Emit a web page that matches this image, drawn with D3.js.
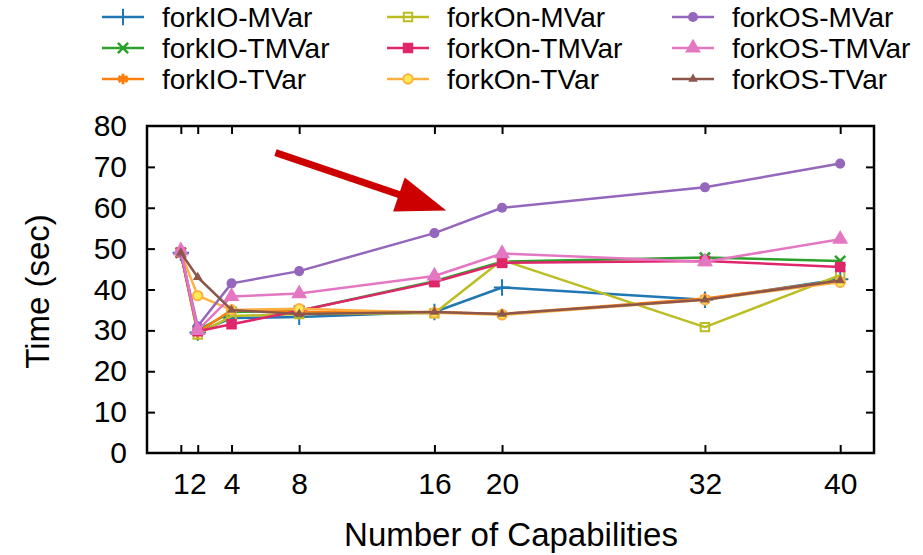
<!DOCTYPE html>
<html>
<head>
<meta charset="utf-8">
<script src="https://cdn.jsdelivr.net/npm/d3@7"></script>
<style>
  html, body { margin: 0; padding: 0; background: #fff; }
  svg { display: block; font-family: "Liberation Sans", Arial, sans-serif; }
</style>
</head>
<body>
<svg id="chart" width="923" height="555"></svg>
<script>
// Capabilities measured
const capabilities = [1, 2, 4, 8, 16, 20, 32, 40];
const xTickValues = [1, 2, 4, 8, 16, 20, 32, 40];
const yTickValues = [0, 10, 20, 30, 40, 50, 60, 70, 80];

// Run time (sec) per variant, one entry per capability count
const forkIOMVar  = [49.0, 29.5, 33.0, 33.3, 34.5, 40.5, 37.5, 42.5];
const forkIOTMVar = [49.0, 30.0, 34.5, 34.8, 42.0, 46.8, 47.8, 47.0];
const forkIOTVar  = [49.0, 29.5, 35.0, 34.5, 34.5, 34.0, 37.8, 42.2];
const forkOnMVar  = [49.0, 29.0, 33.5, 34.0, 34.2, 47.2, 30.8, 43.5];
const forkOnTMVar = [49.0, 29.8, 31.5, 34.8, 41.8, 46.5, 47.0, 45.5];
const forkOnTVar  = [49.0, 38.5, 35.0, 35.3, 34.3, 33.8, 37.5, 41.8];
const forkOSMVar  = [49.0, 31.0, 41.5, 44.5, 53.8, 60.0, 65.0, 70.8];
const forkOSTMVar = [49.5, 30.0, 38.3, 39.0, 43.3, 48.8, 46.8, 52.3];
const forkOSTVar  = [49.0, 43.0, 35.0, 34.0, 34.5, 34.0, 37.5, 42.2];

const seriesNames = ["forkIO-MVar", "forkIO-TMVar", "forkIO-TVar",
                     "forkOn-MVar", "forkOn-TMVar", "forkOn-TVar",
                     "forkOS-MVar", "forkOS-TMVar", "forkOS-TVar"];
const seriesValues = [forkIOMVar, forkIOTMVar, forkIOTVar,
                      forkOnMVar, forkOnTMVar, forkOnTVar,
                      forkOSMVar, forkOSTMVar, forkOSTVar];

// Highlight arrow, in data coordinates: [capabilities, seconds]
const arrowFrom = [6.6, 73.5];
const arrowTo = [16.7, 59.3];

// Styling
const colors = ["#1f77b4", "#2ca02c", "#ff7f0e",
                "#bcbd22", "#e0266a", "#ffb040",
                "#9467bd", "#e377c2", "#8c564b"];
const markers = [
  { type: d3.symbolPlus, size: 90, fill: false, sw: 2 },
  { type: d3.symbolTimes, size: 70, fill: false, sw: 2.5 },
  { type: d3.symbolAsterisk, size: 80, fill: false, sw: 3 },
  { type: d3.symbolSquare2, size: 90, fill: false, sw: 2 },
  { type: d3.symbolSquare, size: 110, fill: true, sw: 0 },
  { type: d3.symbolCircle, size: 70, fill: "light", sw: 2 },
  { type: d3.symbolCircle, size: 80, fill: true, sw: 0 },
  { type: d3.symbolTriangle, size: 110, fill: true, sw: 0 },
  { type: d3.symbolTriangle, size: 40, fill: true, sw: 0 }
];

const svg = d3.select("#chart");
const plot = { left: 147, right: 874, top: 126, bottom: 453 };

const x = d3.scaleLinear().domain([-1, 42]).range([plot.left, plot.right]);
const y = d3.scaleLinear().domain([0, 80]).range([plot.bottom, plot.top]);

const tickLen = 8;
const fontTick = 30;

// Axes with inward ticks on all four sides
const axisG = svg.append("g");
const bottomAxis = axisG.append("g")
  .attr("transform", `translate(0,${plot.bottom})`)
  .call(d3.axisBottom(x).tickValues(xTickValues).tickSizeInner(-tickLen).tickSizeOuter(0).tickPadding(20));
const topAxis = axisG.append("g")
  .attr("transform", `translate(0,${plot.top})`)
  .call(d3.axisTop(x).tickValues(xTickValues).tickSizeInner(-tickLen).tickSizeOuter(0).tickFormat(""));
const leftAxis = axisG.append("g")
  .attr("transform", `translate(${plot.left},0)`)
  .call(d3.axisLeft(y).tickValues(yTickValues).tickSizeInner(-tickLen).tickSizeOuter(0).tickPadding(20));
const rightAxis = axisG.append("g")
  .attr("transform", `translate(${plot.right},0)`)
  .call(d3.axisRight(y).tickValues(yTickValues).tickSizeInner(-tickLen).tickSizeOuter(0).tickFormat(""));

axisG.selectAll(".domain").remove();
axisG.selectAll(".tick line").attr("stroke", "#000").attr("stroke-width", 2);
axisG.selectAll(".tick text")
  .attr("fill", "#000")
  .style("font-size", fontTick + "px")
  .style("font-family", "'Liberation Sans', Arial, sans-serif");
// Drop ticks that fall on the frame corners
leftAxis.selectAll(".tick").filter(d => d === 0 || d === 80).select("line").remove();
rightAxis.selectAll(".tick").filter(d => d === 0 || d === 80).select("line").remove();

// Frame
svg.append("rect")
  .attr("x", plot.left).attr("y", plot.top)
  .attr("width", plot.right - plot.left).attr("height", plot.bottom - plot.top)
  .attr("fill", "none").attr("stroke", "#000").attr("stroke-width", 2.5);

// Axis titles
svg.append("text")
  .attr("x", 511).attr("y", 546)
  .attr("text-anchor", "middle")
  .style("font-size", "33px")
  .text("Number of Capabilities");
svg.append("text")
  .attr("transform", `translate(49,${(plot.top + plot.bottom) / 2 + 2}) rotate(-90)`)
  .attr("text-anchor", "middle")
  .style("font-size", "33px")
  .text("Time (sec)");

// Series
const line = d3.line().x(d => x(d[0])).y(d => y(d[1]));

function drawMarker(g, m, color, cx, cy) {
  const p = g.append("path")
    .attr("d", d3.symbol().type(m.type).size(m.size)())
    .attr("transform", `translate(${cx},${cy})`);
  if (m.fill === true) {
    p.attr("fill", color).attr("stroke", "none");
  } else if (m.fill === "light") {
    p.attr("fill", d3.color(color).brighter(0.8)).attr("stroke", color).attr("stroke-width", m.sw);
  } else {
    p.attr("fill", "none").attr("stroke", color).attr("stroke-width", m.sw);
  }
}

const seriesG = svg.append("g");
seriesNames.forEach((name, i) => {
  const pts = capabilities.map((c, j) => [c, seriesValues[i][j]]);
  const g = seriesG.append("g");
  g.append("path")
    .datum(pts)
    .attr("d", line)
    .attr("fill", "none")
    .attr("stroke", colors[i])
    .attr("stroke-width", 2.5)
    .attr("stroke-linejoin", "round");
  pts.forEach(p => drawMarker(g, markers[i], colors[i], x(p[0]), y(p[1])));
});

// Arrow
const ax0 = x(arrowFrom[0]), ay0 = y(arrowFrom[1]);
const ax1 = x(arrowTo[0]), ay1 = y(arrowTo[1]);
const ang = Math.atan2(ay1 - ay0, ax1 - ax0);
const headLen = 50, headHalf = 18, shaftW = 7;
const bx = ax1 - headLen * Math.cos(ang), by = ay1 - headLen * Math.sin(ang);
const nx = -Math.sin(ang), ny = Math.cos(ang);
const arrowG = svg.append("g");
arrowG.append("line")
  .attr("x1", ax0).attr("y1", ay0).attr("x2", bx + 2 * Math.cos(ang)).attr("y2", by + 2 * Math.sin(ang))
  .attr("stroke", "#cc0000").attr("stroke-width", shaftW);
arrowG.append("path")
  .attr("d", `M${ax1},${ay1}L${bx + headHalf * nx},${by + headHalf * ny}L${bx - headHalf * nx},${by - headHalf * ny}Z`)
  .attr("fill", "#cc0000");

// Legend: three columns, three rows
const legendG = svg.append("g");
const colX = [102, 387, 672];
const rowY = [17, 48, 79];
seriesNames.forEach((name, i) => {
  const cx = colX[Math.floor(i / 3)];
  const cy = rowY[i % 3];
  const g = legendG.append("g");
  g.append("line")
    .attr("x1", cx).attr("x2", cx + 42).attr("y1", cy).attr("y2", cy)
    .attr("stroke", colors[i]).attr("stroke-width", 2.5);
  drawMarker(g, markers[i], colors[i], cx + 21, cy);
  g.append("text")
    .attr("x", cx + 60).attr("y", cy)
    .attr("dy", "0.35em")
    .style("font-size", "28px")
    .text(name);
});
</script>
</body>
</html>
